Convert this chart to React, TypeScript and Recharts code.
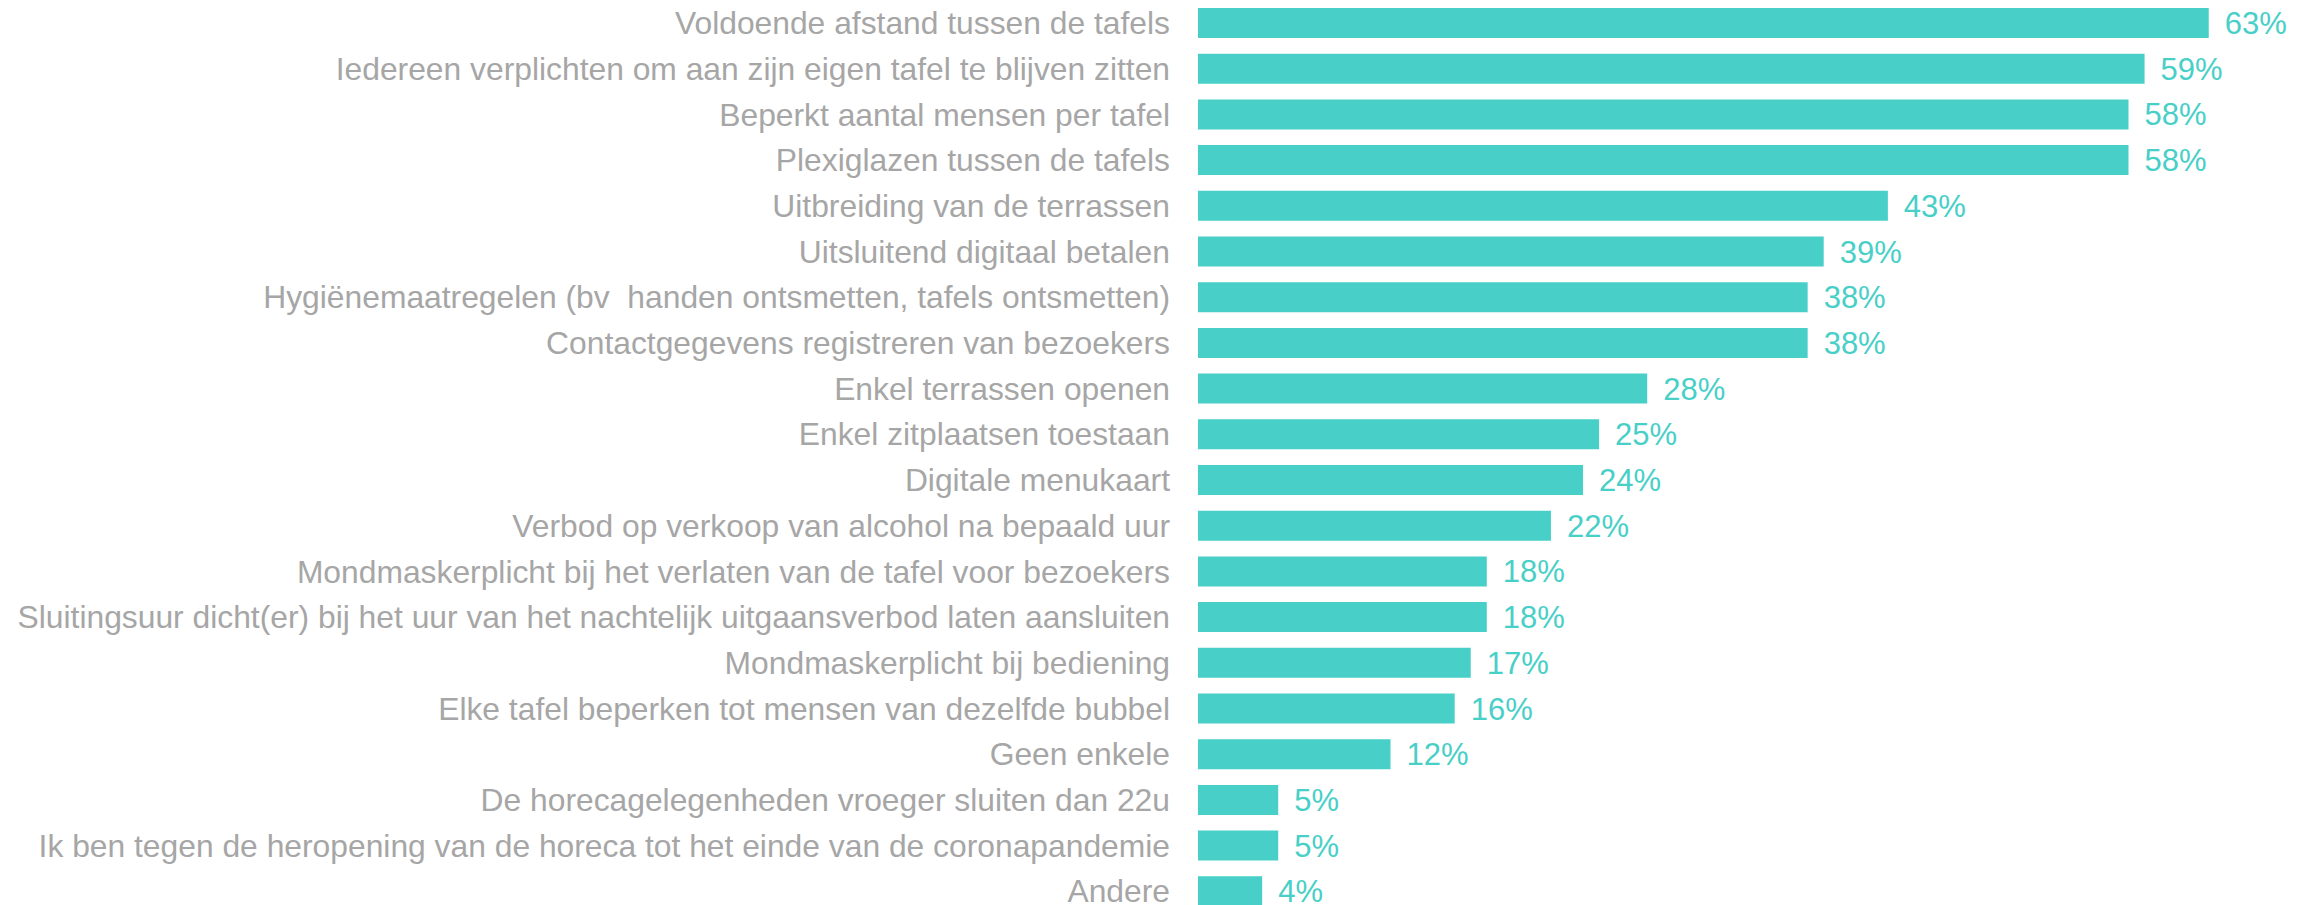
import { BarChart, Bar, XAxis, YAxis, LabelList } from "recharts";

const categories = [
  "Voldoende afstand tussen de tafels",
  "Iedereen verplichten om aan zijn eigen tafel te blijven zitten",
  "Beperkt aantal mensen per tafel",
  "Plexiglazen tussen de tafels",
  "Uitbreiding van de terrassen",
  "Uitsluitend digitaal betalen",
  "Hygiënemaatregelen (bv\u00a0 handen ontsmetten, tafels ontsmetten)",
  "Contactgegevens registreren van bezoekers",
  "Enkel terrassen openen",
  "Enkel zitplaatsen toestaan",
  "Digitale menukaart",
  "Verbod op verkoop van alcohol na bepaald uur",
  "Mondmaskerplicht bij het verlaten van de tafel voor bezoekers",
  "Sluitingsuur dicht(er) bij het uur van het nachtelijk uitgaansverbod laten aansluiten",
  "Mondmaskerplicht bij bediening",
  "Elke tafel beperken tot mensen van dezelfde bubbel",
  "Geen enkele",
  "De horecagelegenheden vroeger sluiten dan 22u",
  "Ik ben tegen de heropening van de horeca tot het einde van de coronapandemie",
  "Andere",
];

const percentages = [63, 59, 58, 58, 43, 39, 38, 38, 28, 25, 24, 22, 18, 18, 17, 16, 12, 5, 5, 4];

const rows = categories.map((name, i) => ({ name, value: percentages[i] }));

const TEAL = "#48cfc7";
const GREY = "#a6a6a6";
const FONT = "'Liberation Sans', Arial, sans-serif";

export default function App() {
  return (
    <div style={{ position: "absolute", left: 0, top: 0, width: 2316, height: 905, overflow: "hidden", background: "#fff" }}>
      <BarChart
        width={2316}
        height={914}
        data={rows}
        layout="vertical"
        margin={{ top: 0, right: 11, left: 0, bottom: 0 }}
      >
        <XAxis type="number" domain={[0, 69]} hide />
        <YAxis
          type="category"
          dataKey="name"
          width={1198}
          interval={0}
          axisLine={false}
          tickLine={false}
          tickSize={0}
          tickMargin={28}
          tick={{ fontSize: 31.8, fill: GREY, fontFamily: FONT }}
        />
        <Bar dataKey="value" fill={TEAL} barSize={30} isAnimationActive={false}>
          <LabelList
            dataKey="value"
            position="right"
            offset={16}
            formatter={(v: any) => `${v}%`}
            style={{ fontSize: 31, fill: TEAL, fontFamily: FONT }}
          />
        </Bar>
      </BarChart>
    </div>
  );
}
